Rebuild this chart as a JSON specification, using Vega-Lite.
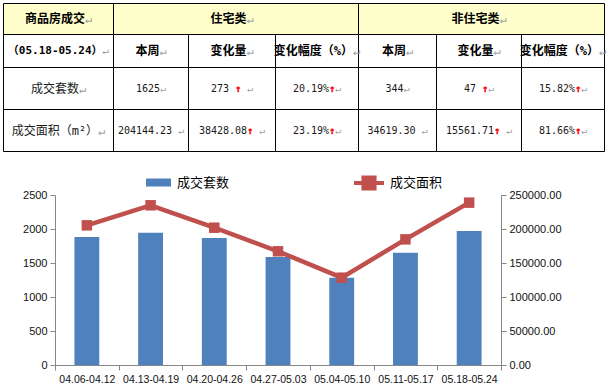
{
  "$schema": "https://vega.github.io/schema/vega-lite/v6.json",
  "padding": {"left": 3, "top": 3, "right": 0, "bottom": 0},
  "background": "white",
  "spacing": 14,
  "config": {"view": {"stroke": null}},
  "resolve": {"scale": {"fill": "independent", "stroke": "independent"}, "legend": {"fill": "independent", "stroke": "independent"}},
  "datasets": {
    "table": [
      {"r": 0, "c0": 0, "c1": 1, "t": "商品房成交↵"},
      {"r": 0, "c0": 1, "c1": 4, "t": "住宅类↵"},
      {"r": 0, "c0": 4, "c1": 7, "t": "非住宅类↵"},
      {"r": 1, "c0": 0, "c1": 1, "t": "（05.18-05.24）↵"},
      {"r": 1, "c0": 1, "c1": 2, "t": "本周↵"},
      {"r": 1, "c0": 2, "c1": 3, "t": "变化量↵"},
      {"r": 1, "c0": 3, "c1": 4, "t": "变化幅度（%）↵"},
      {"r": 1, "c0": 4, "c1": 5, "t": "本周↵"},
      {"r": 1, "c0": 5, "c1": 6, "t": "变化量↵"},
      {"r": 1, "c0": 6, "c1": 7, "t": "变化幅度（%）↵"},
      {"r": 2, "c0": 0, "c1": 1, "t": "成交套数↵"},
      {"r": 2, "c0": 1, "c1": 2, "t": "1625↵"},
      {"r": 2, "c0": 2, "c1": 3, "t": "273 ↑ ↵"},
      {"r": 2, "c0": 3, "c1": 4, "t": "20.19%↑↵"},
      {"r": 2, "c0": 4, "c1": 5, "t": "344↵"},
      {"r": 2, "c0": 5, "c1": 6, "t": "47 ↑↵"},
      {"r": 2, "c0": 6, "c1": 7, "t": "15.82%↑↵"},
      {"r": 3, "c0": 0, "c1": 1, "t": "成交面积（m²）↵"},
      {"r": 3, "c0": 1, "c1": 2, "t": "204144.23 ↵"},
      {"r": 3, "c0": 2, "c1": 3, "t": "38428.08↑ ↵"},
      {"r": 3, "c0": 3, "c1": 4, "t": "23.19%↑↵"},
      {"r": 3, "c0": 4, "c1": 5, "t": "34619.30 ↵"},
      {"r": 3, "c0": 5, "c1": 6, "t": "15561.71↑ ↵"},
      {"r": 3, "c0": 6, "c1": 7, "t": "81.66%↑↵"}
    ],
    "weekly": [
      {"week": "04.06-04.12", "count": 1882, "area": 205400},
      {"week": "04.13-04.19", "count": 1945, "area": 234850},
      {"week": "04.20-04.26", "count": 1868, "area": 201900},
      {"week": "04.27-05.03", "count": 1590, "area": 167200},
      {"week": "05.04-05.10", "count": 1284, "area": 128400},
      {"week": "05.11-05.17", "count": 1649, "area": 184773.74},
      {"week": "05.18-05.24", "count": 1969, "area": 238763.53}
    ]
  },
  "vconcat": [
    {
      "width": 550,
      "height": 149,
      "data": {"name": "table"},
      "transform": [
        {"calculate": "(datum.c0 + datum.c1) / 2", "as": "cm"},
        {"calculate": "datum.r + 0.5", "as": "rm"},
        {"calculate": "datum.r + 1", "as": "r1"},
        {"calculate": "'\u200b' + replace(datum.t, regexp('[ \u2191\u21b5]', 'g'), '\u00a0') + '\u200b'", "as": "tb"},
        {"calculate": "'\u200b' + replace(replace(datum.t, regexp('[\u2e80-\uffef]', 'g'), '\u3000'), regexp('[^\u3000\u2191]', 'g'), '\u00a0') + '\u200b'", "as": "tr"},
        {"calculate": "'\u200b' + replace(replace(datum.t, regexp('[\u2e80-\uffef]', 'g'), '\u3000'), regexp('[^\u3000\u21b5]', 'g'), '\u00a0') + '\u200b'", "as": "tg"}
      ],
      "layer": [
        {
          "mark": {"type": "rect", "stroke": "#000000", "strokeWidth": 1},
          "encoding": {
            "x": {"field": "c0", "type": "quantitative", "axis": null,
                  "scale": {"domain": [0, 1, 2, 3, 4, 5, 6, 7], "range": [-51.5, 58.5, 133.5, 220.5, 303.5, 381.5, 466.5, 549.5], "nice": false, "zero": false}},
            "x2": {"field": "c1"},
            "y": {"field": "r", "type": "quantitative", "axis": null,
                  "scale": {"domain": [0, 1, 2, 3, 4], "range": [0.5, 31.5, 64.5, 106.5, 148.5], "nice": false, "zero": false}},
            "y2": {"field": "r1"},
            "fill": {"condition": {"test": "datum.r === 0", "value": "#FFFFCC"}, "value": "#FFFFFF"}
          }
        },
        {
          "transform": [{"filter": "datum.r <= 1"}],
          "mark": {"type": "text", "font": "DejaVu Sans Mono, Noto Sans CJK SC", "fontWeight": "bold", "baseline": "middle", "align": "center", "color": "#000000"},
          "encoding": {
            "x": {"field": "cm", "type": "quantitative"},
            "y": {"field": "rm", "type": "quantitative"},
            "text": {"field": "tb"},
            "size": {"condition": {"test": "datum.r === 1 && datum.c0 === 0", "value": 11}, "value": 12}
          }
        },
        {
          "transform": [{"filter": "datum.r >= 2"}],
          "mark": {"type": "text", "font": "DejaVu Sans Mono, Noto Sans CJK SC", "baseline": "middle", "align": "center", "color": "#1a1a1a"},
          "encoding": {
            "x": {"field": "cm", "type": "quantitative"},
            "y": {"field": "rm", "type": "quantitative"},
            "text": {"field": "tb"},
            "size": {"condition": {"test": "datum.c0 === 0", "value": 12}, "value": 10}
          }
        },
        {
          "transform": [{"filter": "indexof(datum.t, '\u2191') >= 0"}],
          "mark": {"type": "text", "font": "DejaVu Sans Mono, Noto Sans CJK SC", "fontSize": 10, "fontWeight": "bold", "baseline": "middle", "align": "center", "color": "#FF0000", "stroke": "#FF0000", "strokeWidth": 0.4},
          "encoding": {
            "x": {"field": "cm", "type": "quantitative"},
            "y": {"field": "rm", "type": "quantitative"},
            "text": {"field": "tr"}
          }
        },
        {
          "mark": {"type": "text", "font": "DejaVu Sans Mono, Noto Sans CJK SC", "baseline": "middle", "align": "center", "color": "#A0A0A0"},
          "encoding": {
            "x": {"field": "cm", "type": "quantitative"},
            "y": {"field": "rm", "type": "quantitative"},
            "text": {"field": "tg"},
            "size": {"condition": [
              {"test": "datum.r === 1 && datum.c0 === 0", "value": 11},
              {"test": "datum.r >= 2 && datum.c0 > 0", "value": 10}
            ], "value": 12}
          }
        }
      ]
    },
    {
      "width": 446,
      "height": 170,
      "data": {"name": "weekly"},
      "encoding": {
        "x": {
          "field": "week", "type": "nominal", "sort": null,
          "scale": {"paddingInner": 0, "paddingOuter": 0},
          "axis": {"title": null, "labelAngle": 0, "tickBand": "extent", "tickSize": 5, "labelPadding": 4,
                   "domainColor": "#868686", "tickColor": "#868686", "labelFont": "Liberation Sans", "labelFontSize": 10.5,
                   "labelColor": "#111111", "labelOverlap": false}
        }
      },
      "layer": [
        {
          "mark": {"type": "bar", "width": {"band": 0.39}},
          "encoding": {
            "y": {"field": "count", "type": "quantitative",
                  "scale": {"domain": [0, 2500], "nice": false},
                  "axis": {"orient": "left", "title": null, "grid": false, "values": [0, 500, 1000, 1500, 2000, 2500], "format": "d",
                           "domainColor": "#868686", "tickColor": "#868686", "tickSize": 5, "labelPadding": 3, "labelOverlap": false,
                           "labelFont": "Liberation Sans", "labelFontSize": 11, "labelColor": "#111111",
                           "minExtent": 52, "maxExtent": 52}},
            "fill": {"datum": "成交套数", "scale": {"range": ["#4F81BD"]},
                     "legend": {"title": null, "orient": "none", "legendX": 91, "legendY": -25, "padding": 0,
                                "symbolType": "M-1,-0.32H1V0.32H-1Z", "symbolSize": 625, "symbolStrokeWidth": 0,
                                "labelFont": "Noto Sans CJK SC", "labelFontSize": 13, "labelColor": "#000000", "labelOffset": 6}}
          }
        },
        {
          "encoding": {
            "y": {"field": "area", "type": "quantitative",
                  "scale": {"domain": [0, 250000], "nice": false},
                  "axis": {"orient": "right", "title": null, "grid": false, "values": [0, 50000, 100000, 150000, 200000, 250000],
                           "format": ".2f", "domainColor": "#868686", "tickColor": "#868686", "tickSize": 5, "labelPadding": 3, "labelOverlap": false,
                           "labelFont": "Liberation Sans", "labelFontSize": 11, "labelColor": "#111111"}}
          },
          "layer": [
            {
              "mark": {"type": "line", "strokeWidth": 4.5},
              "encoding": {
                "stroke": {"datum": "成交面积", "scale": {"range": ["#C0504D"]},
                           "legend": {"title": null, "orient": "none", "legendX": 297, "legendY": -29, "padding": 0,
                                      "symbolType": "M-1,0H1M-0.37,-0.37H0.37V0.37H-0.37Z", "symbolSize": 900,
                                      "symbolStrokeWidth": 4, "symbolFillColor": "#C0504D", "symbolStrokeColor": "#C0504D",
                                      "labelFont": "Noto Sans CJK SC", "labelFontSize": 13, "labelColor": "#000000", "labelOffset": 4}}
              }
            },
            {
              "mark": {"type": "point", "shape": "square", "size": 110, "filled": true, "color": "#C0504D", "opacity": 1}
            }
          ]
        }
      ],
      "resolve": {"scale": {"y": "independent"}}
    }
  ]
}
